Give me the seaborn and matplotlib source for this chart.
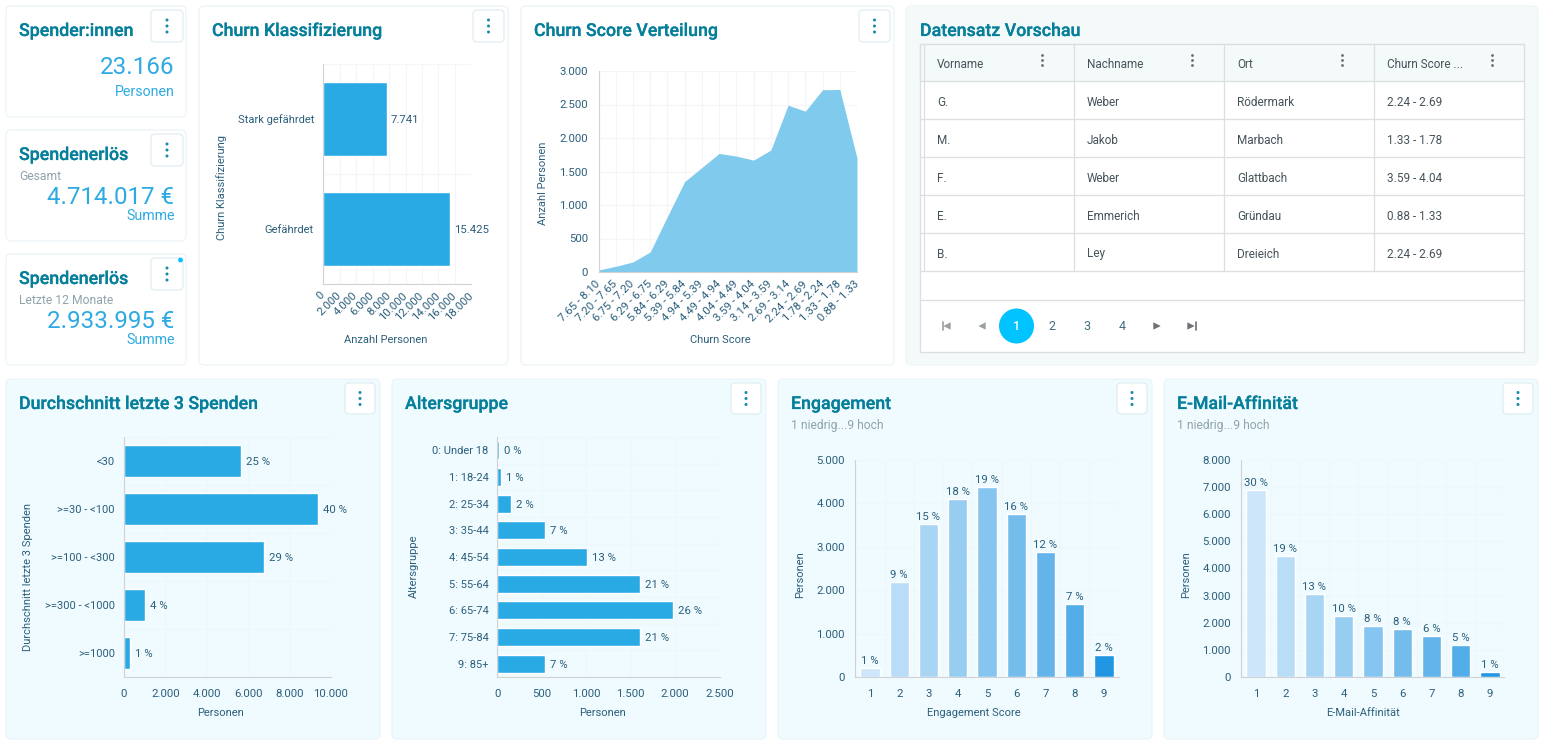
import matplotlib
matplotlib.use("Agg")
import matplotlib.pyplot as plt
import matplotlib.patheffects as pe
from matplotlib.patches import FancyBboxPatch, Rectangle, Circle
import seaborn as sns
import pandas as pd

churn_class = ["Stark gefährdet", "Gefährdet"]
churn_class_n = [7741, 15425]
churn_class_lbl = ["7.741", "15.425"]

score_bins = ["7.65 - 8.10", "7.20 - 7.65", "6.75 - 7.20", "6.29 - 6.75", "5.84 - 6.29", "5.39 - 5.84",
              "4.94 - 5.39", "4.49 - 4.94", "4.04 - 4.49", "3.59 - 4.04", "3.14 - 3.59", "2.69 - 3.14",
              "2.24 - 2.69", "1.78 - 2.24", "1.33 - 1.78", "0.88 - 1.33"]
score_n = [30, 85, 150, 300, 830, 1350, 1560, 1770, 1730, 1670, 1820, 2490, 2400, 2720, 2725, 1700]

avg_cats = ["<30", ">=30 - <100", ">=100 - <300", ">=300 - <1000", ">=1000"]
avg_n = [5667, 9357, 6786, 1000, 286]
avg_pct = ["25 %", "40 %", "29 %", "4 %", "1 %"]

age_cats = ["0: Under 18", "1: 18-24", "2: 25-34", "3: 35-44", "4: 45-54", "5: 55-64", "6: 65-74", "7: 75-84", "9: 85+"]
age_n = [17, 40, 155, 536, 1007, 1604, 1975, 1604, 536]
age_pct = ["0 %", "1 %", "2 %", "7 %", "13 %", "21 %", "26 %", "21 %", "7 %"]

levels = ["1", "2", "3", "4", "5", "6", "7", "8", "9"]
engagement_n = [215, 2193, 3528, 4103, 4379, 3758, 2883, 1687, 514]
engagement_pct = ["1 %", "9 %", "15 %", "18 %", "19 %", "16 %", "12 %", "7 %", "2 %"]
email_n = [6890, 4466, 3067, 2258, 1890, 1779, 1521, 1190, 196]
email_pct = ["30 %", "19 %", "13 %", "10 %", "8 %", "8 %", "6 %", "5 %", "1 %"]

table_head = ["Vorname", "Nachname", "Ort", "Churn Score ..."]
table_first = ["G.", "M.", "F.", "E.", "B."]
table_last = ["Weber", "Jakob", "Weber", "Emmerich", "Ley"]
table_city = ["Rödermark", "Marbach", "Glattbach", "Gründau", "Dreieich"]
table_score = ["2.24 - 2.69", "1.33 - 1.78", "3.59 - 4.04", "0.88 - 1.33", "2.24 - 2.69"]

# --- colours ---
TITLE = "#067f9b"
TICK = "#2b5f7c"
VALUE = "#2eaae3"
BAR = "#2aaae5"
AREA = "#80cbed"
AXIS = "#cfd3d6"
GRID = "#f3f5fb"
GRID_BLUE = "#edf8fd"
LEVEL_COLORS = ["#cde6fa", "#b9ddf7", "#a9d5f5", "#98cdf2", "#86c5f0", "#74bcec", "#63b4ea", "#52ade8", "#2197e3"]

sns.set_theme(style="white")
plt.rcParams["font.family"] = ["Roboto", "DejaVu Sans"]

W, H = 1544, 744
fig = plt.figure(figsize=(W / 100, H / 100), dpi=100, facecolor="white")

# pixel overlay for cards, titles and the table
bg = fig.add_axes([0, 0, 1, 1])
bg.set_xlim(0, W)
bg.set_ylim(H, 0)
bg.axis("off")


def box(x0, y0, x1, y1, face, edge="#e9f3f6", r=5, z=1):
    bg.add_patch(FancyBboxPatch((x0 + r, y0 + r), x1 - x0 - 2 * r, y1 - y0 - 2 * r,
                                boxstyle=f"round,pad={r},rounding_size={r}",
                                fc=face, ec=edge, lw=0.8, zorder=z))


def menu(x0, y0, x1, y1):
    box(x0, y0, x1, y1, "white", edge="#dcebef", r=4, z=2)
    cx, cy = (x0 + x1) / 2, (y0 + y1) / 2
    for d in (-6, 0, 6):
        bg.add_patch(Circle((cx, cy + d), 1.5, fc="#1b8aa8", ec="none", zorder=3))


def label(x, y, s, size=8, color=TICK, ha="left", weight="normal"):
    return bg.text(x, y + 1, s, fontsize=size, color=color, ha=ha, va="center", fontweight=weight, zorder=4)


# cards
for y0, y1 in [(6, 117), (130, 241), (254, 365)]:
    box(6, y0, 186, y1, "white")
    menu(151, y0 + 4, 183, y0 + 36)
box(199, 6, 508, 365, "white")
menu(473, 10, 504, 42)
box(521, 6, 894, 365, "white")
menu(859, 10, 890, 42)
box(906, 6, 1538, 365, "#f4f9f9", edge="#eef6f6")
for x0, x1 in [(6, 380), (392, 766), (778, 1152), (1164, 1538)]:
    box(x0, 379, x1, 739, "#f0fbff", edge="#e8f4f8")
    menu(x1 - 35, 383, x1 - 5, 414)
bg.add_patch(Circle((180.5, 260), 2.4, fc="#00c3ff", ec="none", zorder=5))

for x, y, s in [(19, 30, "Spender:innen"), (19, 154, "Spendenerlös"), (19, 278, "Spendenerlös"),
                (212, 30, "Churn Klassifizierung"), (534, 30, "Churn Score Verteilung"),
                (920, 30, "Datensatz Vorschau"), (19, 403, "Durchschnitt letzte 3 Spenden"),
                (405, 403, "Altersgruppe"), (791, 403, "Engagement"), (1177, 403, "E-Mail-Affinität")]:
    t = label(x, y, s, size=12.8, color=TITLE, weight="medium")
    t.set_path_effects([pe.withStroke(linewidth=0.15, foreground=TITLE)])
for x, y, s in [(19, 176, "Gesamt"), (19, 300, "Letzte 12 Monate"),
                (791, 425, "1 niedrig...9 hoch"), (1177, 425, "1 niedrig...9 hoch")]:
    label(x, y, s, size=8.7, color="#8ea3aa")
for y, s in [(66, "23.166"), (196, "4.714.017 €"), (320, "2.933.995 €")]:
    label(174.5, y, s, size=17.4, color=VALUE, ha="right")
for y, s in [(91, "Personen"), (215, "Summe"), (339, "Summe")]:
    label(174.5, y, s, size=10.2, color=VALUE, ha="right")


def make_axes(x0, x1, y0, y1):
    ax = fig.add_axes([x0 / W, 1 - y1 / H, (x1 - x0) / W, (y1 - y0) / H], facecolor="none")
    ax.set_zorder(5)
    return ax


def style_axes(ax, xlabel, ylabel, xlab_pos, ylab_pos, grid=GRID):
    sns.despine(ax=ax, top=True, right=True)
    for s in ("left", "bottom"):
        ax.spines[s].set_color(AXIS)
        ax.spines[s].set_linewidth(0.8)
    ax.tick_params(which="both", length=3.6, width=0.7, color=AXIS, labelsize=8.2, labelcolor=TICK, pad=4)
    ax.set_axisbelow(True)
    ax.grid(True, which="major", color=grid, lw=0.8)
    ax.set_xlabel(xlabel, fontsize=8, color=TICK)
    ax.set_ylabel(ylabel, fontsize=8, color=TICK)
    ax.xaxis.set_label_coords(*xlab_pos, transform=bg.transData)
    ax.yaxis.set_label_coords(*ylab_pos, transform=bg.transData)
    ax.xaxis.label.set_va("center")
    ax.yaxis.label.set_va("center")


def dotted(v):
    return f"{v:,.0f}".replace(",", ".")


def add_value_labels(ax, container, texts, padding):
    for t in ax.bar_label(container, labels=texts, padding=padding, fontsize=8.2, color=TICK):
        t.set_va("center_baseline" if container.orientation == "horizontal" else "bottom")


def hbars(box_px, cats, values, texts, xmax, xstep, xlabel, ylabel, xlab_pos, ylab_pos, grid=GRID_BLUE, padding=3.5):
    ax = make_axes(*box_px)
    df = pd.DataFrame({"cat": cats, "n": values})
    sns.barplot(data=df, x="n", y="cat", color=BAR, saturation=1, width=0.67, ax=ax)
    style_axes(ax, xlabel, ylabel, xlab_pos, ylab_pos, grid)
    ax.set_xlim(0, xmax)
    ticks = list(range(0, xmax + 1, xstep))
    ax.set_xticks(ticks, [dotted(t) for t in ticks])
    ax.tick_params(axis="x", which="major", pad=4.9)
    # category ticks sit on the band edges, names stay centred
    ax.set_yticks([i - 0.5 for i in range(len(cats) + 1)], minor=True)
    ax.tick_params(axis="y", which="major", length=0, pad=6.5, labelsize=8)
    ax.grid(False, axis="y", which="major")
    ax.grid(True, axis="y", which="minor", color=grid, lw=0.8)
    add_value_labels(ax, ax.containers[0], texts, padding)
    return ax


def vbars(box_px, values, texts, ymax, ystep, xlabel, ylabel, xlab_pos, ylab_pos):
    ax = make_axes(*box_px)
    df = pd.DataFrame({"level": levels, "n": values})
    sns.barplot(data=df, x="level", y="n", hue="level", palette=LEVEL_COLORS, saturation=1,
                width=0.66, legend=False, ax=ax)
    style_axes(ax, xlabel, ylabel, xlab_pos, ylab_pos, GRID_BLUE)
    ax.set_ylim(0, ymax)
    ticks = list(range(0, ymax + 1, ystep))
    ax.set_yticks(ticks, [dotted(t) for t in ticks])
    ax.set_xticks([i - 0.5 for i in range(len(levels) + 1)], minor=True)
    ax.tick_params(axis="x", which="major", length=0, pad=8.5)
    ax.grid(False, axis="x", which="major")
    ax.grid(True, axis="x", which="minor", color=GRID_BLUE, lw=0.8)
    for cont, txt in zip(ax.containers, texts):
        add_value_labels(ax, cont, [txt], 1.5)
    return ax


# churn classes
ax = hbars((323, 471.5, 64, 284), churn_class, churn_class_n, churn_class_lbl, 18000, 2000,
           "Anzahl Personen", "Churn Klassifizierung", (386, 340), (222, 188), grid=GRID, padding=3)
ax.tick_params(axis="x", which="major", pad=3.5)
plt.setp(ax.get_xticklabels(), rotation=45, ha="right", va="center", rotation_mode="anchor")

# churn score area
ax = make_axes(598.5, 857, 71, 272)
df = pd.DataFrame({"pos": range(len(score_bins)), "n": score_n})
sns.lineplot(data=df, x="pos", y="n", color=AREA, linewidth=0, ax=ax)
ax.fill_between(df["pos"], df["n"], color=AREA, lw=0)
style_axes(ax, "Churn Score", "Anzahl Personen", (720, 340), (543, 183))
ax.set_xlim(0, len(score_bins) - 1)
ax.set_ylim(0, 3000)
ax.set_xticks(df["pos"], score_bins, rotation=45, ha="right", va="center", rotation_mode="anchor")
ax.tick_params(axis="x", which="major", pad=4)
ax.set_yticks(range(0, 3001, 500), [dotted(t) for t in range(0, 3001, 500)])

# bottom row
hbars((124, 331, 437, 677), avg_cats, avg_n, avg_pct, 10000, 2000,
      "Personen", "Durchschnitt letzte 3 Spenden", (221, 713), (28, 577))
hbars((497.5, 719.5, 437, 677), age_cats, age_n, age_pct, 2500, 500,
      "Personen", "Altersgruppe", (602, 713), (414, 566))
vbars((855.4, 1118.5, 460, 677), engagement_n, engagement_pct, 5000, 1000,
      "Engagement Score", "Personen", (974, 713), (800, 575))
vbars((1241.4, 1504.5, 460, 677), email_n, email_pct, 8000, 1000,
      "E-Mail-Affinität", "Personen", (1363, 713), (1186, 575))

# table
LINE = "#dcdfe1"
bg.add_patch(Rectangle((920, 44), 604, 308, fc="white", ec=LINE, lw=0.9, zorder=2))
bg.add_patch(Rectangle((920, 44), 604, 37, fc="#f4f9f9", ec=LINE, lw=0.9, zorder=2))
col_x = [924, 1074, 1224, 1374]
row_y = [81, 119, 157, 195, 233, 271]
for x in col_x:
    bg.plot([x, x], [44, 271], color=LINE, lw=0.9, zorder=3)
for y in row_y[1:] + [300]:
    bg.plot([920, 1524], [y, y], color=LINE, lw=0.9, zorder=3)
for x, head in zip(col_x, table_head):
    label(x + 13, 63, head, size=8.5, color="#46535a")
    for d in (-5, 0, 5):
        bg.add_patch(Circle((x + 118.5, 60.5 + d), 1.4, fc="#6d6d6d", ec="none", zorder=4))
for i in range(len(table_first)):
    row = [table_first[i], table_last[i], table_city[i], table_score[i]]
    for x, cell in zip(col_x, row):
        label(x + 13, row_y[i] + 20, cell, size=8.5, color="#46535a")

# pagination
bg.add_patch(Circle((1016.5, 326), 17.5, fc="#00c3ff", ec="none", zorder=3))
label(1016.5, 325, "1", size=9, color="white", ha="center", weight="medium")
for x, s in [(1052, "2"), (1087, "3"), (1122, "4")]:
    label(x, 325, s, size=9, color="#3f6f80", ha="center")
gray = "#9a9fa3"
bg.scatter([947, 982], [326, 326], marker="<", s=28, color=[gray, gray], linewidths=0, zorder=4)
bg.scatter([1157, 1191], [326, 326], marker=">", s=28, color=["#6e7276", "#6e7276"], linewidths=0, zorder=4)
bg.plot([942.5, 942.5], [322, 330], color=gray, lw=1.2, zorder=4)
bg.plot([1195.5, 1195.5], [322, 330], color="#6e7276", lw=1.2, zorder=4)

fig.savefig("out.png", dpi=100)
